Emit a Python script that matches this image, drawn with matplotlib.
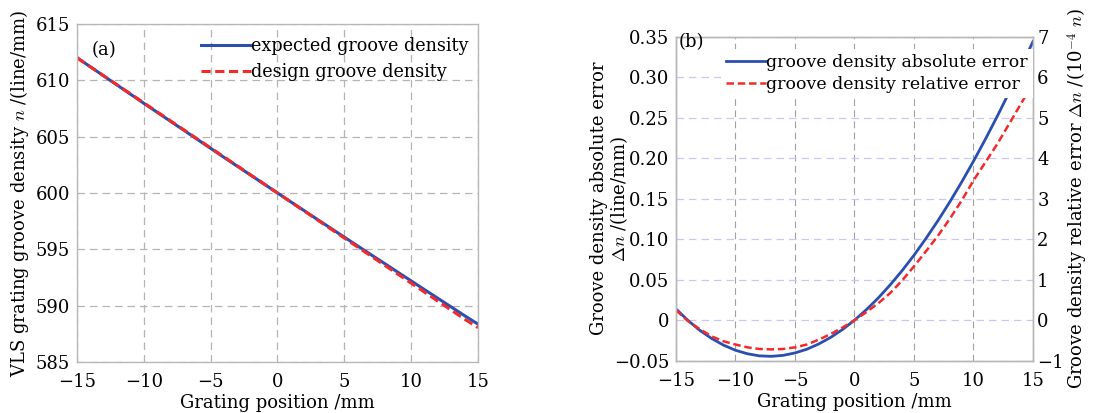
import matplotlib
matplotlib.use('Agg')
import matplotlib.pyplot as plt
from matplotlib.ticker import FixedLocator, FixedFormatter

plt.rcParams['font.family'] = 'DejaVu Serif'
plt.rcParams['mathtext.fontset'] = 'cm'
plt.rcParams['axes.unicode_minus'] = True

# grating position (mm)
position = [-15, -14, -13, -12, -11, -10, -9, -8, -7, -6, -5, -4, -3, -2, -1, 0,
            1, 2, 3, 4, 5, 6, 7, 8, 9, 10, 11, 12, 13, 14, 15]

# (a) groove density, line/mm
expected_density = [612.01, 611.20, 610.39, 609.58, 608.77, 607.96, 607.16, 606.36,
                    605.56, 604.76, 603.96, 603.16, 602.37, 601.58, 600.79, 600.00,
                    599.21, 598.43, 597.64, 596.86, 596.08, 595.30, 594.52, 593.75,
                    592.97, 592.20, 591.42, 590.65, 589.88, 589.11, 588.36]
design_density = [612.0, 611.2, 610.4, 609.6, 608.8, 608.0, 607.2, 606.4, 605.6, 604.8,
                  604.0, 603.2, 602.4, 601.6, 600.8, 600.0, 599.2, 598.4, 597.6, 596.8,
                  596.0, 595.2, 594.4, 593.6, 592.8, 592.0, 591.2, 590.4, 589.6, 588.8,
                  588.05]

# (b) errors
abs_error = [0.0140, -0.0002, -0.0125, -0.0226, -0.0308, -0.0371, -0.0414, -0.0440,
             -0.0446, -0.0434, -0.0404, -0.0358, -0.0293, -0.0212, -0.0114, 0.0,
             0.0130, 0.0275, 0.0436, 0.0612, 0.0802, 0.1008, 0.1226, 0.1458,
             0.1704, 0.1963, 0.2235, 0.2518, 0.2815, 0.3123, 0.3441]
rel_error = [0.25, -0.02, -0.22, -0.40, -0.52, -0.60, -0.67, -0.71, -0.72, -0.71,
             -0.67, -0.60, -0.48, -0.34, -0.18, 0.0, 0.20, 0.42, 0.67, 0.98,
             1.33, 1.70, 2.08, 2.50, 2.95, 3.45, 3.90, 4.35, 4.85, 5.35, 5.85]

x_ticks = [-15, -10, -5, 0, 5, 10, 15]
x_labels = ['\u221215', '\u221210', '\u22125', '0', '5', '10', '15']
a_ticks = [585, 590, 595, 600, 605, 610, 615]
b_ticks = [-0.05, 0, 0.05, 0.10, 0.15, 0.20, 0.25, 0.30, 0.35]
b_labels = ['\u22120.05', '0', '0.05', '0.10', '0.15', '0.20', '0.25', '0.30', '0.35']
r_ticks = [-1, 0, 1, 2, 3, 4, 5, 6, 7]
r_labels = ['\u22121', '0', '1', '2', '3', '4', '5', '6', '7']

blue = '#2a4fb0'
red = '#f42a2a'
fs = 13

fig = plt.figure(figsize=(11.08, 4.13), dpi=100)

# ---- panel (a)
ax1 = fig.add_axes([0.0695, 0.1235, 0.3619, 0.8184])
ax1.plot(position, expected_density, color=blue, lw=2.2, label='expected groove density')
ax1.plot(position, design_density, color=red, lw=2.2, ls=(0, (3, 1.5)), label='design groove density')
ax1.set_xlim(-15, 15)
ax1.set_ylim(585, 615)
ax1.xaxis.set_major_locator(FixedLocator(x_ticks))
ax1.xaxis.set_major_formatter(FixedFormatter(x_labels))
ax1.yaxis.set_major_locator(FixedLocator(a_ticks))
ax1.grid(True, color='#b4b4b4', ls=(0, (6, 4)), lw=0.9)
ax1.set_xlabel('Grating position /mm', fontsize=fs, labelpad=2)
ax1.set_ylabel('VLS grating groove density $n$ /(line/mm)', fontsize=fs, labelpad=3)
ax1.text(-13.9, 612.7, '(a)', fontsize=fs, va='center')
ax1.legend(loc='upper right', bbox_to_anchor=(1.0, 0.99), frameon=False, fontsize=12.7,
           handlelength=2.8, handletextpad=0.0, borderaxespad=0.15, labelspacing=0.45)

# ---- panel (b)
ax2 = fig.add_axes([0.6101, 0.1266, 0.3222, 0.7845])
ln1, = ax2.plot(position, abs_error, color=blue, lw=2.0, label='groove density absolute error')
ax2.set_xlim(-15, 15)
ax2.set_ylim(-0.05, 0.35)
ax2.xaxis.set_major_locator(FixedLocator(x_ticks))
ax2.xaxis.set_major_formatter(FixedFormatter(x_labels))
ax2.yaxis.set_major_locator(FixedLocator(b_ticks))
ax2.yaxis.set_major_formatter(FixedFormatter(b_labels))
ax2.xaxis.grid(True, color='#a0a0a0', ls=(0, (6, 4)), lw=0.8)
ax2.yaxis.grid(True, color='#c8c8f4', ls=(0, (6, 4)), lw=0.9)
ax2.set_xlabel('Grating position /mm', fontsize=fs, labelpad=2)
ax2.set_ylabel('Groove density absolute error\n$\\Delta n$ /(line/mm)', fontsize=fs,
               linespacing=1.0)
ax2.yaxis.set_label_coords(-0.128, 0.5)

ax3 = ax2.twinx()
ln2, = ax3.plot(position, rel_error, color=red, lw=1.8, ls=(0, (3, 1.5)),
                label='groove density relative error')
ax3.set_ylim(-1, 7)
ax3.yaxis.set_major_locator(FixedLocator(r_ticks))
ax3.yaxis.set_major_formatter(FixedFormatter(r_labels))
ax3.set_ylabel('Groove density relative error $\\Delta n$ /(10$^{-4}$ $n$)', fontsize=fs, labelpad=1)
leg = ax3.legend(handles=[ln1, ln2], loc='upper right', bbox_to_anchor=(1.0, 0.963),
                 frameon=True, fontsize=12.5, handlelength=2.3, handletextpad=0.0,
                 borderaxespad=0.0, labelspacing=0.3, borderpad=0.3, fancybox=False)
leg.get_frame().set_facecolor('white')
leg.get_frame().set_edgecolor('none')
leg.get_frame().set_alpha(1)
ax3.text(-14.8, 0.343, '(b)', fontsize=fs, va='center', transform=ax2.transData, zorder=10)

for ax in (ax1, ax2, ax3):
    for sp in ax.spines.values():
        sp.set_color('#b8b8b8')
        sp.set_linewidth(1.0)
    ax.tick_params(labelsize=fs, length=0)
for ax in (ax1, ax2):
    ax.tick_params(axis='x', pad=8)
    ax.tick_params(axis='y', pad=5)
ax3.tick_params(axis='y', pad=3)
ax2.set_axisbelow(True)

fig.savefig('out.png', dpi=100)
